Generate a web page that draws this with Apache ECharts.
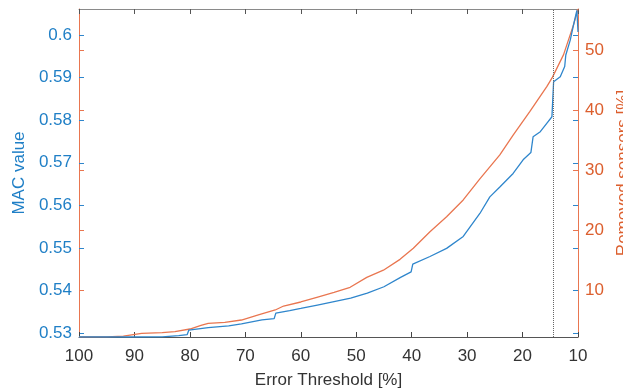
<!DOCTYPE html>
<html>
<head>
<meta charset="utf-8">
<script src="https://cdn.jsdelivr.net/npm/echarts@6/dist/echarts.min.js"></script>
<style>
  html, body { margin: 0; padding: 0; background: #fff; }
  #chart { width: 623px; height: 389px; }
</style>
</head>
<body>
<div id="chart"></div>
<script>
// error threshold [%] vs MAC value (left axis)
const macThreshold = [100, 90, 85, 82, 80.5, 80.2, 76.7, 73, 70.7, 67, 64.8, 64.5, 62, 60, 57, 54, 51, 48, 45, 42,
  40.1, 39.8, 36.7, 33.7, 30.7, 27.7, 25.9, 24.1, 21.7, 19.9, 18.5, 18.1, 16.8, 15.6, 14.7, 14.4, 13.2, 12.4,
  12.2, 11.4, 10.8, 10.2, 10.05, 10];
const macValues = [0.5291, 0.5291, 0.52915, 0.5294, 0.52965, 0.5307, 0.5313, 0.5317, 0.5322, 0.5331, 0.5334,
  0.5347, 0.5353, 0.5358, 0.5366, 0.5374, 0.5382, 0.5394, 0.5409, 0.5431, 0.5444, 0.5462, 0.5480, 0.5499,
  0.5527, 0.5581, 0.5620, 0.5643, 0.5675, 0.5707, 0.5724, 0.5761, 0.5773, 0.5793, 0.5808, 0.5890, 0.5902,
  0.5926, 0.5953, 0.5988, 0.6024, 0.6058, 0.6061, 0.6007];

// error threshold [%] vs removed sensors [%] (right axis)
const removedThreshold = [100, 95, 92, 88.7, 85, 82.7, 80, 78, 76.7, 73.7, 70.7, 67.5, 64.6, 63.1, 60, 57.1, 54,
  51.1, 48.1, 45.1, 42.1, 39.7, 36.7, 33.7, 30.7, 27.7, 24.1, 21.7, 18.7, 15.6, 14.6, 12.6, 10.8, 10];
const removedValues = [2.17, 2.2, 2.33, 2.78, 2.9, 3.05, 3.5, 4.1, 4.45, 4.62, 5.0, 5.9, 6.67, 7.33, 8.0, 8.78, 9.6,
  10.45, 12.1, 13.3, 15.1, 16.95, 19.7, 22.2, 25.0, 28.5, 32.5, 35.8, 39.7, 43.9, 45.45, 49.2, 54.2, 56.8];

const xTicks = [100, 90, 80, 70, 60, 50, 40, 30, 20, 10];
const macTicks = [0.53, 0.54, 0.55, 0.56, 0.57, 0.58, 0.59, 0.6];
const removedTicks = [10, 20, 30, 40, 50];
const markerThreshold = 14.5;

const blue = '#2f86cc';
const orange = '#e97650';
const blueText = '#1f7fc6';
const orangeText = '#dc5f2e';
const font = 'Liberation Sans, Arial, sans-serif';

const macRange = { min: 0.5291, max: 0.6061 };
const removedRange = { min: 2.17, max: 56.8 };

const chart = echarts.init(document.getElementById('chart'));

const tickStyle = (color) => ({ show: true, inside: true, length: 5, lineStyle: { color: color, width: 1 } });

chart.setOption({
  animation: false,
  backgroundColor: '#fff',
  grid: { left: 79, right: 45, top: 9, bottom: 52, outerBoundsMode: 'none', containLabel: false },
  xAxis: [
    {
      type: 'value',
      inverse: true,
      min: 10,
      max: 100,
      interval: 10,
      name: 'Error Threshold [%]',
      nameLocation: 'middle',
      nameGap: 35,
      nameTextStyle: { color: '#333', fontSize: 17, fontFamily: font },
      axisLine: { show: true, lineStyle: { color: '#555', width: 1 } },
      axisTick: { show: true, inside: true, length: 5, lineStyle: { color: '#444' }, customValues: xTicks },
      axisLabel: { color: '#333', fontSize: 17, fontFamily: font, margin: 11, customValues: xTicks },
      splitLine: { show: false }
    },
    {
      type: 'value',
      position: 'top',
      inverse: true,
      min: 10,
      max: 100,
      interval: 10,
      axisLine: { show: true, lineStyle: { color: '#8a8a8a', width: 1 } },
      axisTick: { show: true, inside: true, length: 5, lineStyle: { color: '#555' }, customValues: xTicks },
      axisLabel: { show: false },
      splitLine: { show: false }
    }
  ],
  yAxis: [
    {
      type: 'value',
      position: 'left',
      min: macRange.min,
      max: macRange.max,
      name: 'MAC value',
      nameLocation: 'middle',
      nameRotate: 90,
      nameGap: 50,
      nameTextStyle: { color: blueText, fontSize: 17, fontFamily: font },
      axisLine: { show: true, lineStyle: { color: orange, width: 1 } },
      axisTick: Object.assign(tickStyle(blue), { customValues: macTicks }),
      axisLabel: {
        color: blueText, fontSize: 17, fontFamily: font, margin: 7,
        customValues: macTicks,
        formatter: (v) => String(parseFloat(v.toFixed(2)))
      },
      splitLine: { show: false }
    },
    {
      type: 'value',
      position: 'right',
      min: removedRange.min,
      max: removedRange.max,
      name: 'Removed sensors [%]',
      nameLocation: 'middle',
      nameRotate: 90,
      nameGap: 34,
      nameTextStyle: { color: orangeText, fontSize: 17, fontFamily: font },
      axisLine: { show: true, lineStyle: { color: orange, width: 1 } },
      axisTick: Object.assign(tickStyle(orange), { customValues: removedTicks }),
      axisLabel: { color: orangeText, fontSize: 17, fontFamily: font, margin: 7, customValues: removedTicks },
      splitLine: { show: false }
    },
    {
      type: 'value',
      position: 'left',
      min: removedRange.min,
      max: removedRange.max,
      axisLine: { show: false },
      axisTick: Object.assign(tickStyle(orange), { customValues: removedTicks }),
      axisLabel: { show: false },
      splitLine: { show: false }
    },
    {
      type: 'value',
      position: 'right',
      min: macRange.min,
      max: macRange.max,
      axisLine: { show: false },
      axisTick: Object.assign(tickStyle(blue), { customValues: macTicks }),
      axisLabel: { show: false },
      splitLine: { show: false }
    }
  ],
  series: [
    {
      name: 'Removed sensors',
      type: 'line',
      yAxisIndex: 1,
      symbol: 'none',
      lineStyle: { color: orange, width: 1.3 },
      data: removedThreshold.map((x, i) => [x, removedValues[i]])
    },
    {
      name: 'MAC value',
      type: 'line',
      yAxisIndex: 0,
      symbol: 'none',
      lineStyle: { color: blue, width: 1.3 },
      data: macThreshold.map((x, i) => [x, macValues[i]]),
      markLine: {
        silent: true,
        symbol: 'none',
        label: { show: false },
        lineStyle: { color: '#666', type: 'dotted', width: 1 },
        data: [{ xAxis: markerThreshold }]
      }
    }
  ]
});
</script>
</body>
</html>
